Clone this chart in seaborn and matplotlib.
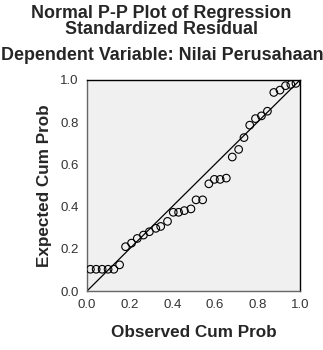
import matplotlib
matplotlib.use("Agg")
import matplotlib.pyplot as plt
import seaborn as sns
import pandas as pd

observed = [0.016, 0.043, 0.071, 0.099, 0.126, 0.153, 0.181, 0.209, 0.236, 0.265,
            0.293, 0.323, 0.346, 0.378, 0.405, 0.430, 0.457, 0.488, 0.512, 0.543,
            0.572, 0.598, 0.625, 0.654, 0.682, 0.712, 0.737, 0.764, 0.791, 0.819,
            0.847, 0.877, 0.906, 0.932, 0.957, 0.981]
expected = [0.103, 0.103, 0.103, 0.103, 0.103, 0.124, 0.210, 0.227, 0.249, 0.265,
            0.281, 0.297, 0.306, 0.330, 0.373, 0.373, 0.381, 0.389, 0.432, 0.432,
            0.508, 0.529, 0.529, 0.535, 0.635, 0.671, 0.727, 0.786, 0.817, 0.830,
            0.852, 0.941, 0.952, 0.973, 0.979, 0.984]
ticks = [0.0, 0.2, 0.4, 0.6, 0.8, 1.0]
tick_labels = ["0.0", "0.2", "0.4", "0.6", "0.8", "1.0"]
ref_line = [0.0, 1.0]

sns.set_style("white")
plt.rcParams['font.family'] = ['Liberation Sans', 'DejaVu Sans']

df = pd.DataFrame({"Observed Cum Prob": observed, "Expected Cum Prob": expected})

fig = plt.figure(figsize=(3.23, 3.5), dpi=100)
ax = fig.add_axes([87/323, 59/350, 213/323, 211/350])
ax.set_facecolor("#f0f0f0")

sns.lineplot(x=ref_line, y=ref_line, ax=ax, color="black", linewidth=0.9)
sns.scatterplot(data=df, x="Observed Cum Prob", y="Expected Cum Prob", ax=ax,
                marker="o", s=30, facecolor="none", edgecolor="black", linewidth=0.8,
                zorder=3)

ax.set_xlim(0, 1)
ax.set_ylim(0, 1)
ax.set_xticks(ticks)
ax.set_yticks(ticks)
ax.set_xticklabels(tick_labels)
ax.set_yticklabels(tick_labels)
ax.tick_params(direction="out", length=4, width=0.8, pad=2, labelsize=9.5,
               labelcolor="#333333", color="#333333")
for s in ax.spines.values():
    s.set_color("black")
    s.set_linewidth(1.0)
ax.spines["left"].set_color("#666666")
ax.spines["bottom"].set_color("#666666")

ax.set_xlabel("Observed Cum Prob", fontsize=12.3, fontweight="bold", labelpad=10)
ax.set_ylabel("Expected Cum Prob", fontsize=12.3, fontweight="bold", labelpad=6)

fig.text(0.5, 1 - 13/350, "Normal P-P Plot of Regression", ha="center", va="center",
         fontsize=12.9, fontweight="bold")
fig.text(0.5, 1 - 29/350, "Standardized Residual", ha="center", va="center",
         fontsize=12.9, fontweight="bold")
fig.text(1/323, 1 - 55/350, "Dependent Variable: Nilai Perusahaan", ha="left", va="center",
         fontsize=12.9, fontweight="bold")

fig.savefig("out.png", dpi=100)
